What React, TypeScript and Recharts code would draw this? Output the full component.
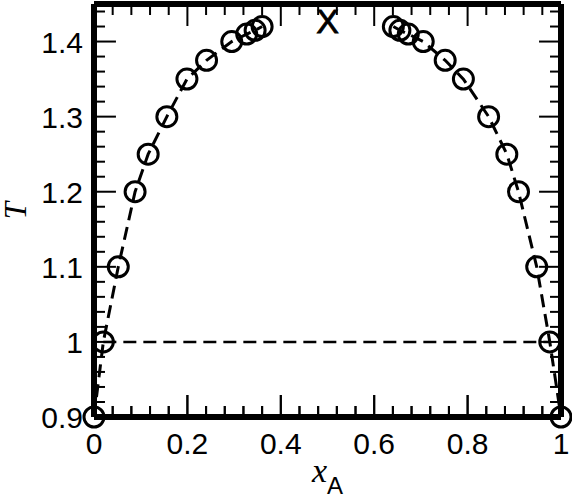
import { ComposedChart, Line, Scatter, XAxis, YAxis } from 'recharts';

// coexistence curve, left branch (A-poor) and right branch (A-rich)
const leftX = [0, 0.02, 0.052, 0.088, 0.116, 0.156, 0.199, 0.241, 0.295, 0.327, 0.345, 0.36];
const leftT = [0.9, 1.0, 1.1, 1.2, 1.25, 1.3, 1.35, 1.375, 1.4, 1.41, 1.415, 1.42];
const rightX = [0.641, 0.655, 0.673, 0.705, 0.752, 0.791, 0.845, 0.884, 0.909, 0.948, 0.976, 1.0];
const rightT = [1.42, 1.415, 1.41, 1.4, 1.375, 1.35, 1.3, 1.25, 1.2, 1.1, 1.0, 0.9];

// tie line at T = 1
const tieX = [0.02, 0.976];
const tieT = [1.0, 1.0];

// critical point
const critX = [0.5];
const critT = [1.428];

const X_DOMAIN = [0, 1];
const T_DOMAIN = [0.9, 1.45];

const xMajor = [0, 0.2, 0.4, 0.6, 0.8, 1];
const yMajor = [0.9, 1, 1.1, 1.2, 1.3, 1.4];
// inner ticks (the ones lying on the frame corners are covered by the frame)
const xTicks = [0.04, 0.08, 0.12, 0.16, 0.2, 0.24, 0.28, 0.32, 0.36, 0.4, 0.44, 0.48, 0.52, 0.56, 0.6, 0.64, 0.68, 0.72, 0.76, 0.8, 0.84, 0.88, 0.92, 0.96];
const yTicks = [0.92, 0.94, 0.96, 0.98, 1, 1.02, 1.04, 1.06, 1.08, 1.1, 1.12, 1.14, 1.16, 1.18, 1.2, 1.22, 1.24, 1.26, 1.28, 1.3, 1.32, 1.34, 1.36, 1.38, 1.4, 1.42, 1.44];

// inward tick lengths, in axis units (about 22px major, 11px minor)
const TICK_X = 0.047;
const TICK_T = 0.0293;
const EDGE = 0.0004;

const leftBranch = leftX.map((x, i) => ({ x, T: leftT[i] }));
const rightBranch = rightX.map((x, i) => ({ x, T: rightT[i] }));
const tieLine = tieX.map((x, i) => ({ x, T: tieT[i] }));
const critPoint = critX.map((x, i) => ({ x, T: critT[i] }));

// every tick is its own two-point segment, starting just inside the frame
const hasMajor = (list: number[], v: number) => list.some((m) => Math.abs(m - v) < 1e-6);
type Seg = { id: string; pts: { x: number; T: number }[] };
const tickSegs: Seg[] = [
  ...xTicks.map((x) => {
    const len = hasMajor(xMajor, x) ? TICK_T : TICK_T / 2;
    return { id: `b${x}`, pts: [{ x, T: T_DOMAIN[0] + EDGE }, { x, T: T_DOMAIN[0] + len }] };
  }),
  ...xTicks.map((x) => {
    const len = hasMajor(xMajor, x) ? TICK_T : TICK_T / 2;
    return { id: `t${x}`, pts: [{ x, T: T_DOMAIN[1] - EDGE }, { x, T: T_DOMAIN[1] - len }] };
  }),
  ...yTicks.map((T) => {
    const len = hasMajor(yMajor, T) ? TICK_X : TICK_X / 2;
    return { id: `l${T}`, pts: [{ x: X_DOMAIN[0] + EDGE, T }, { x: X_DOMAIN[0] + len, T }] };
  }),
  ...yTicks.map((T) => {
    const len = hasMajor(yMajor, T) ? TICK_X : TICK_X / 2;
    return { id: `r${T}`, pts: [{ x: X_DOMAIN[1] - EDGE, T }, { x: X_DOMAIN[1] - len, T }] };
  }),
];

const SANS = 'Liberation Sans, Arial, Helvetica, sans-serif';
const SERIF = 'Liberation Serif, Times New Roman, serif';

const fmt = (v: number) => String(Math.round(v * 10) / 10);

const bottomLabel = (p: any) => {
  const major = hasMajor(xMajor, p.payload.value);
  return (
    <g key={`bl-${p.index}`}>
      <line x1={p.x} x2={p.x} y1={p.y} y2={p.y - (major ? 22 : 11)} stroke="#000" strokeWidth={2} />
      {major && (
        <text x={p.x} y={p.y + 37} textAnchor="middle" fontSize={30} fontFamily={SANS} fill="#000">
          {fmt(p.payload.value)}
        </text>
      )}
    </g>
  );
};

const leftLabel = (p: any) => (
  <text key={`ll-${p.index}`} x={p.x - 11} y={p.y + 11} textAnchor="end" fontSize={30} fontFamily={SANS} fill="#000">
    {fmt(p.payload.value)}
  </text>
);

function XLabel(props: any) {
  const { viewBox } = props;
  const cx = viewBox.x + viewBox.width / 2;
  return (
    <text x={cx} y={viewBox.y + 65} textAnchor="middle" fill="#000">
      <tspan fontFamily={SERIF} fontStyle="italic" fontSize={34}>x</tspan>
      <tspan fontFamily={SANS} fontSize={24} dy={12}>A</tspan>
    </text>
  );
}

function YLabel(props: any) {
  const { viewBox } = props;
  const cy = viewBox.y + viewBox.height / 2;
  return (
    <text
      x={26}
      y={cy}
      transform={`rotate(-90, 26, ${cy})`}
      textAnchor="middle"
      fontFamily={SERIF}
      fontStyle="italic"
      fontSize={31}
      fill="#000"
    >
      T
    </text>
  );
}

const renderCircle = (p: any) => (
  <circle key={`c-${p.index}`} cx={p.cx} cy={p.cy} r={10} fill="none" stroke="#000" strokeWidth={3} />
);

const renderCross = (p: any) => (
  <text x={p.cx} y={p.cy + 12} textAnchor="middle" fontSize={34} fontFamily={SANS} fill="#000" stroke="#000" strokeWidth={0.8}>
    X
  </text>
);

// the outer half of each axis line is what shows, so draw it twice as wide
const frameLine = { stroke: '#000', strokeWidth: 6 };

export default function App() {
  return (
    <div style={{ position: 'absolute', left: 0, top: 0, background: '#fff' }}>
      <ComposedChart width={572} height={499} margin={{ top: 1, right: 0, bottom: 0, left: 0 }}>
        <XAxis
          xAxisId="b"
          dataKey="x"
          type="number"
          orientation="bottom"
          domain={X_DOMAIN}
          ticks={[0, ...xTicks, 1]}
          interval={0}
          height={82}
          tickSize={0}
          tickMargin={0}
          tickLine={false}
          axisLine={frameLine}
          tick={bottomLabel}
          label={<XLabel />}
        />
        <XAxis
          xAxisId="t"
          dataKey="x"
          type="number"
          orientation="top"
          domain={X_DOMAIN}
          ticks={xMajor}
          height={3}
          tickLine={false}
          axisLine={frameLine}
          tick={false}
        />
        <YAxis
          yAxisId="l"
          dataKey="T"
          type="number"
          orientation="left"
          domain={T_DOMAIN}
          ticks={yMajor}
          interval={0}
          width={94}
          tickSize={0}
          tickMargin={0}
          tickLine={false}
          axisLine={frameLine}
          tick={leftLabel}
          label={<YLabel />}
        />
        <YAxis
          yAxisId="r"
          dataKey="T"
          type="number"
          orientation="right"
          domain={T_DOMAIN}
          ticks={yMajor}
          width={11}
          tickLine={false}
          axisLine={frameLine}
          tick={false}
        />
        <Line
          xAxisId="b"
          yAxisId="l"
          data={tieLine}
          dataKey="T"
          type="linear"
          stroke="#000"
          strokeWidth={2.5}
          strokeDasharray="13 7"
          dot={false}
          isAnimationActive={false}
        />
        <Line
          xAxisId="b"
          yAxisId="l"
          data={leftBranch}
          dataKey="T"
          type="linear"
          stroke="#000"
          strokeWidth={3}
          strokeDasharray="13 7"
          dot={renderCircle}
          isAnimationActive={false}
        />
        <Line
          xAxisId="b"
          yAxisId="l"
          data={rightBranch}
          dataKey="T"
          type="linear"
          stroke="#000"
          strokeWidth={3}
          strokeDasharray="13 7"
          dot={renderCircle}
          isAnimationActive={false}
        />
        <Scatter
          xAxisId="b"
          yAxisId="l"
          data={critPoint}
          dataKey="T"
          shape={renderCross}
          isAnimationActive={false}
        />
        {tickSegs.map((s) => (
          <Line
            key={s.id}
            xAxisId="b"
            yAxisId="l"
            data={s.pts}
            dataKey="T"
            type="linear"
            stroke="#000"
            strokeWidth={2}
            dot={false}
            activeDot={false}
            isAnimationActive={false}
          />
        ))}
      </ComposedChart>
    </div>
  );
}
